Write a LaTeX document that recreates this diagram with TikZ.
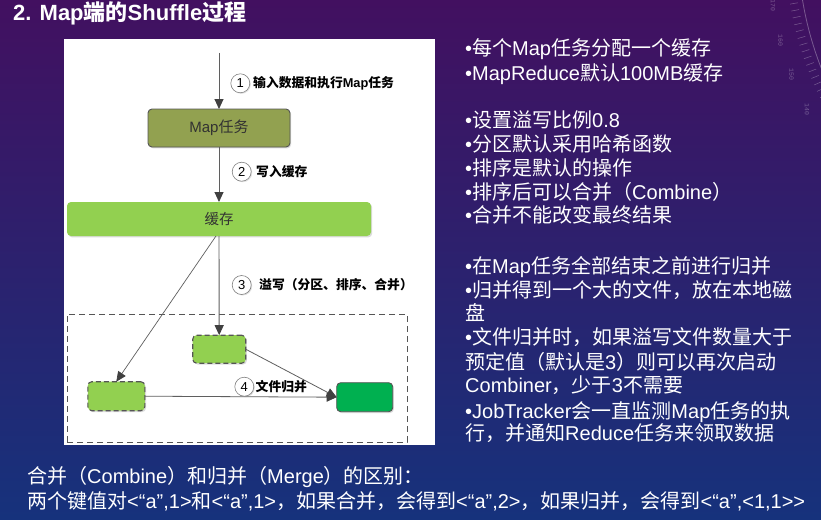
\documentclass[tikz,border=0pt]{standalone}
\usepackage{fontspec}
\setmainfont{Liberation Sans}
\setmonofont{Liberation Mono}
\newfontfamily\cjkfont{Noto Sans CJK SC}
\usetikzlibrary{arrows.meta,shadows}

% Han characters and full-width punctuation switch to the CJK font automatically
\XeTeXinterchartokenstate=1
\newXeTeXintercharclass\cjkclass
\makeatletter
\count@="3000 \loop \XeTeXcharclass\count@=\cjkclass \ifnum\count@<"303F \advance\count@ by 1 \repeat
\count@="4E00 \loop \XeTeXcharclass\count@=\cjkclass \ifnum\count@<"9FFF \advance\count@ by 1 \repeat
\count@="FF00 \loop \XeTeXcharclass\count@=\cjkclass \ifnum\count@<"FFEF \advance\count@ by 1 \repeat
\makeatother
\XeTeXinterchartoks 0 \cjkclass = {\cjkfont}
\XeTeXinterchartoks 4095 \cjkclass = {\cjkfont}
\XeTeXinterchartoks \cjkclass 0 = {\rmfamily}
\XeTeXinterchartoks \cjkclass 4095 = {\rmfamily}

\definecolor{bgtop}{RGB}{66,16,96}
\definecolor{bgmid}{RGB}{44,30,108}
\definecolor{bgbot}{RGB}{22,50,124}
\definecolor{olivebox}{RGB}{146,161,80}
\definecolor{lightgreen}{RGB}{146,208,80}
\definecolor{deepgreen}{RGB}{0,176,80}
\definecolor{edge}{RGB}{85,85,85}
\definecolor{linegray}{RGB}{95,95,95}
\definecolor{tipgray}{RGB}{64,64,64}
\definecolor{boxtext}{RGB}{50,50,50}

\tikzset{
  box/.style={rounded corners=4pt, inner sep=0pt, outer sep=0pt,
    drop shadow={shadow xshift=1.2pt, shadow yshift=-1.4pt, opacity=0.28}},
  dashedbox/.style={box, draw=edge, line width=1.1pt, dash pattern=on 5pt off 3pt, fill=lightgreen},
  flow/.style={draw=linegray, line width=0.9pt, -{Triangle[length=10pt,width=9pt,color=tipgray]}},
  stepnum/.style={circle, draw=gray, fill=white, line width=0.6pt, minimum size=19pt, inner sep=0pt,
    font=\fontsize{13}{13}\selectfont,
    drop shadow={shadow xshift=1pt, shadow yshift=-1pt, opacity=0.25}},
  steplabel/.style={anchor=west, inner sep=0pt, text=black, font=\bfseries\fontsize{12.8}{13}\selectfont},
  bodytext/.style={anchor=base west, inner sep=0pt, text=white, font=\fontsize{20}{24}\selectfont},
  dialnum/.style={inner sep=0pt, font=\ttfamily\fontsize{6.5}{7}\selectfont},
}

\begin{document}
\begin{tikzpicture}[x=1pt,y=-1pt]
\useasboundingbox (0,0) rectangle (821,519);
\clip (0,0) rectangle (821,519);

% background
\shade[top color=bgtop, middle color=bgmid, bottom color=bgbot] (0,0) rectangle (821,519);

% dial ornament in the upper right corner
\begin{scope}[shift={(1136,-55)}, white, opacity=0.3]
  \draw[line width=0.8pt] (145:338) arc[start angle=145, end angle=180, radius=338];
  \foreach \a in {145,146.15,...,180} \draw[line width=0.5pt] (\a:343) -- (\a:351);
  \foreach \n/\a in {170/170.5,160/165,150/159.4,140/153.4}
    \node[dialnum, text=white, rotate=-90] (dial\n) at (\a:368) {\n};
\end{scope}

% title
\node[anchor=base west, inner sep=0pt, text=white, font=\bfseries\fontsize{22}{24}\selectfont]
  (title) at (13,21) {2. Map端的Shuffle过程};

% diagram panel
\node[fill=white, minimum width=371pt, minimum height=406pt, inner sep=0pt, outer sep=0pt]
  (panel) at (249.5,242) {};

% spill area
\node[draw=edge, line width=1pt, dash pattern=on 6pt off 4pt, minimum width=340pt, minimum height=128pt,
  inner sep=0pt, outer sep=0pt] (spill) at (237,378) {};

% boxes
\node[box, draw=edge, line width=0.9pt, fill=olivebox, minimum width=142pt, minimum height=38pt,
  text=boxtext, font=\fontsize{15}{15}\selectfont] (map) at (219,128) {Map任务};
\node[box, fill=lightgreen, minimum width=304pt, minimum height=34pt,
  text=boxtext, font=\fontsize{14.5}{15}\selectfont] (cache) at (219,219) {缓存};
\node[dashedbox, minimum width=53pt, minimum height=28pt] (midfile) at (219.2,349.2) {};
\node[dashedbox, minimum width=57pt, minimum height=29pt] (leftfile) at (116.3,396.2) {};
\node[box, draw=edge, line width=0.9pt, fill=deepgreen, minimum width=56pt, minimum height=29pt]
  (merged) at (364.7,397.2) {};

% connectors
\coordinate (source) at (219,53);
\draw[flow] (source) -- (map.north);
\draw[flow] (map.south) -- (cache.north);
\draw[flow] (cache.south) -- (midfile.north);
\draw[flow, line width=0.7pt] ([xshift=-3pt]cache.south) -- (leftfile.north);
\draw[flow, line width=0.8pt] (midfile.east) -- (merged.west);
\draw[flow, line width=0.8pt] (leftfile.east) -- (merged.west);

% step labels
\node[stepnum] (n1) at (240.3,83.3) {1};
\node[steplabel] (l1) at (253,83.3) {输入数据和执行Map任务};
\node[stepnum] (n2) at (241.7,171.7) {2};
\node[steplabel] (l2) at (256,171.7) {写入缓存};
\node[stepnum] (n3) at (241.7,285) {3};
\node[steplabel] (l3) at (259,285) {溢写（分区、排序、合并）};
\node[stepnum] (n4) at (244.3,386.7) {4};
\node[steplabel] (l4) at (255.5,386.7) {文件归并};

% notes on the right
\node[bodytext] (r1) at (465,55.5) {•每个Map任务分配一个缓存};
\node[bodytext] (r2) at (465,80) {•MapReduce默认100MB缓存};
\node[bodytext] (r3) at (465,127.5) {•设置溢写比例0.8};
\node[bodytext] (r4) at (465,151) {•分区默认采用哈希函数};
\node[bodytext] (r5) at (465,175) {•排序是默认的操作};
\node[bodytext] (r6) at (465,199) {•排序后可以合并（Combine）};
\node[bodytext] (r7) at (465,222.5) {•合并不能改变最终结果};
\node[bodytext] (r8) at (465,273) {•在Map任务全部结束之前进行归并};
\node[bodytext] (r9) at (465,297) {•归并得到一个大的文件，放在本地磁};
\node[bodytext] (r10) at (465,320.5) {盘};
\node[bodytext] (r11) at (465,344.5) {•文件归并时，如果溢写文件数量大于};
\node[bodytext] (r12) at (465,369) {预定值（默认是3）则可以再次启动};
\node[bodytext] (r13) at (465,392.5) {Combiner，少于3不需要};
\node[bodytext] (r14) at (465,418) {•JobTracker会一直监测Map任务的执};
\node[bodytext] (r15) at (465,440.5) {行，并通知Reduce任务来领取数据};

% footer
\node[bodytext] (f1) at (27,483) {合并（Combine）和归并（Merge）的区别：};
\node[bodytext] (f2) at (27,508.5) {两个键值对<“a”,1>和<“a”,1>，如果合并，会得到<“a”,2>，如果归并，会得到<“a”,<1,1>{}>};
\end{tikzpicture}
\end{document}
